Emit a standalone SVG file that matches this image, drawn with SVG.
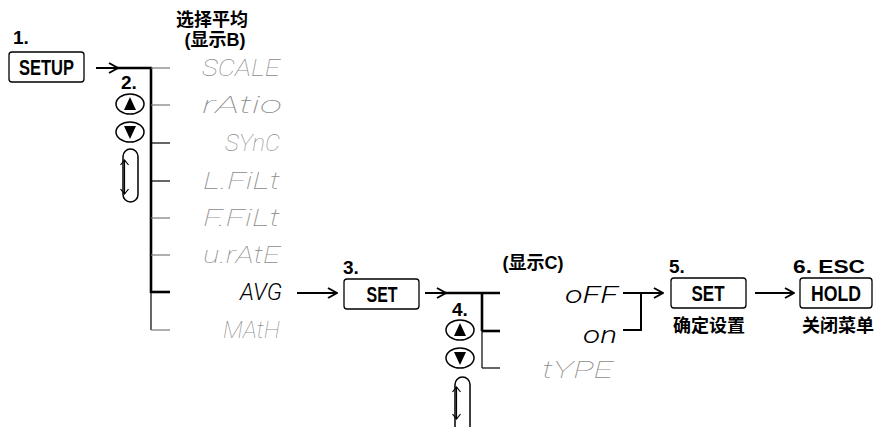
<svg xmlns="http://www.w3.org/2000/svg" width="877" height="427" viewBox="0 0 877 427">
<style>
.bg{fill:#fff}
.box{fill:#fff;stroke:#000;stroke-width:1.3}
.key{font-family:"Liberation Sans",Arial,sans-serif;font-weight:bold;font-size:22px;fill:#000}
.num{font-family:"Liberation Sans",Arial,sans-serif;font-weight:bold;font-size:19px;fill:#000}
.cjk{font-family:"Liberation Sans","Noto Sans CJK SC",sans-serif;font-weight:bold;font-size:18px;fill:#000}
.seg{font-family:Roboto,"DejaVu Sans",sans-serif;font-style:italic;font-weight:100;font-size:24px;fill:#8c8c8c}
.segon{font-family:Roboto,"DejaVu Sans",sans-serif;font-style:italic;font-weight:300;font-size:24px;fill:#000}
.thick{stroke:#000;stroke-width:2.6;fill:none}
.thin{stroke:#000;stroke-width:1.2;fill:none}
.grey{stroke:#7a7a7a;stroke-width:1.2;fill:none}
.arr{stroke:#000;stroke-width:2;fill:none}
.btn{fill:#fff;stroke:#000;stroke-width:1.5}
</style>
<defs>
<marker id="ah" viewBox="0 0 12 12" refX="11" refY="6" markerWidth="12" markerHeight="12" markerUnits="userSpaceOnUse" orient="auto">
<path d="M2,1 L11,6 L2,11" fill="none" stroke="#000" stroke-width="2"/>
</marker>
<marker id="sh" viewBox="0 0 10 10" refX="9" refY="5" markerWidth="10" markerHeight="10" markerUnits="userSpaceOnUse" orient="auto-start-reverse">
<path d="M4,1 L9,5 L4,9" fill="none" stroke="#000" stroke-width="1.2"/>
</marker>
</defs>
<rect class="bg" width="877" height="427"/>

<g id="connectors">
<line class="arr" x1="96" y1="68" x2="118" y2="68" marker-end="url(#ah)"/>
<line class="thick" x1="116" y1="68" x2="152" y2="68"/>
<line class="thick" x1="151" y1="67" x2="151" y2="293"/>
<line class="thin" x1="151" y1="293" x2="151" y2="330"/>
<line class="grey" x1="151" y1="68" x2="170" y2="68"/>
<line class="grey" x1="151" y1="105" x2="170" y2="105"/>
<line class="thin" x1="151" y1="143" x2="170" y2="143"/>
<line class="thin" x1="151" y1="181" x2="170" y2="181"/>
<line class="grey" x1="151" y1="218" x2="170" y2="218"/>
<line class="grey" x1="151" y1="255" x2="170" y2="255"/>
<line class="thick" x1="151" y1="292" x2="170" y2="292"/>
<line class="grey" x1="151" y1="330" x2="170" y2="330"/>
<line class="arr" x1="297" y1="293" x2="337" y2="293" marker-end="url(#ah)"/>
<line class="arr" x1="425" y1="293" x2="446" y2="293" marker-end="url(#ah)"/>
<line class="thick" x1="444" y1="293" x2="500" y2="293"/>
<line class="thick" x1="482" y1="292" x2="482" y2="331"/>
<line class="thin" x1="482" y1="331" x2="482" y2="368"/>
<line class="thick" x1="482" y1="331" x2="500" y2="331"/>
<line class="thin" x1="482" y1="368" x2="500" y2="368"/>
<line class="arr" x1="623" y1="293" x2="663" y2="293" marker-end="url(#ah)"/>
<polyline class="arr" points="623,330 641,330 641,293"/>
<line class="arr" x1="755" y1="293" x2="794" y2="293" marker-end="url(#ah)"/>
</g>

<g id="step1">
<text class="num" x="13" y="44">1.</text>
<rect class="box" x="9" y="52" width="75" height="30" rx="3"/>
<text class="key" x="46.5" y="75" text-anchor="middle" textLength="55" lengthAdjust="spacingAndGlyphs">SETUP</text>
</g>

<g id="title-b">
<text class="cjk" x="212" y="26" text-anchor="middle">选择平均</text>
<text class="cjk" x="215" y="46" text-anchor="middle">(显示B)</text>
</g>

<g id="step2">
<text class="num" x="121" y="89">2.</text>
<ellipse class="btn" cx="130" cy="104" rx="14" ry="10"/>
<polygon points="130,97 124,110 136,110" fill="#000"/>
<ellipse class="btn" cx="130" cy="132" rx="14" ry="10"/>
<polygon points="124,126 136,126 130,139" fill="#000"/>
<rect class="btn" x="123" y="149" width="15" height="53" rx="7.5"/>
<line class="thin" x1="124.5" y1="160" x2="124.5" y2="194" marker-start="url(#sh)" marker-end="url(#sh)"/>
</g>

<g id="menu-b">
<text class="seg" x="202" y="76" textLength="78" lengthAdjust="spacingAndGlyphs">SCALE</text>
<text class="seg" x="202" y="113" textLength="80" lengthAdjust="spacingAndGlyphs">rAtio</text>
<text class="seg" x="225" y="151" textLength="55" lengthAdjust="spacingAndGlyphs">SYnC</text>
<text class="seg" x="203" y="189" textLength="77" lengthAdjust="spacingAndGlyphs">L.FiLt</text>
<text class="seg" x="203" y="226" textLength="77" lengthAdjust="spacingAndGlyphs">F.FiLt</text>
<text class="seg" x="203" y="263" textLength="77" lengthAdjust="spacingAndGlyphs">u.rAtE</text>
<text class="segon" x="240" y="300" textLength="42" lengthAdjust="spacingAndGlyphs">AVG</text>
<text class="seg" x="223" y="338" textLength="57" lengthAdjust="spacingAndGlyphs">MAtH</text>
</g>

<g id="step3">
<text class="num" x="343" y="274">3.</text>
<rect class="box" x="344" y="279" width="75" height="30" rx="3"/>
<text class="key" x="382" y="302" text-anchor="middle" textLength="31" lengthAdjust="spacingAndGlyphs">SET</text>
</g>

<g id="step4">
<text class="num" x="452" y="316">4.</text>
<ellipse class="btn" cx="460" cy="330" rx="14" ry="10"/>
<polygon points="460,323 454,336 466,336" fill="#000"/>
<ellipse class="btn" cx="460" cy="358" rx="14" ry="10"/>
<polygon points="454,352 466,352 460,365" fill="#000"/>
<rect class="btn" x="455" y="377" width="15" height="62" rx="7.5"/>
<line class="thin" x1="456.5" y1="387" x2="456.5" y2="419" marker-start="url(#sh)" marker-end="url(#sh)"/>
</g>

<g id="menu-c">
<text class="cjk" x="533" y="269" text-anchor="middle">(显示C)</text>
<text class="segon" x="565" y="303" textLength="53" lengthAdjust="spacingAndGlyphs">oFF</text>
<text class="segon" x="583" y="343" textLength="34" lengthAdjust="spacingAndGlyphs">on</text>
<text class="seg" x="542" y="378" textLength="71" lengthAdjust="spacingAndGlyphs">tYPE</text>
</g>

<g id="step5">
<text class="num" x="669" y="273">5.</text>
<rect class="box" x="671" y="278" width="75" height="30" rx="3"/>
<text class="key" x="708" y="301" text-anchor="middle" textLength="33" lengthAdjust="spacingAndGlyphs">SET</text>
<text class="cjk" x="709" y="332" text-anchor="middle">确定设置</text>
</g>

<g id="step6">
<text class="num" x="793" y="273" textLength="72" lengthAdjust="spacingAndGlyphs">6. ESC</text>
<rect class="box" x="800" y="278" width="72" height="30" rx="3"/>
<text class="key" x="836" y="301" text-anchor="middle" textLength="50" lengthAdjust="spacingAndGlyphs">HOLD</text>
<text class="cjk" x="838" y="332" text-anchor="middle">关闭菜单</text>
</g>
</svg>
